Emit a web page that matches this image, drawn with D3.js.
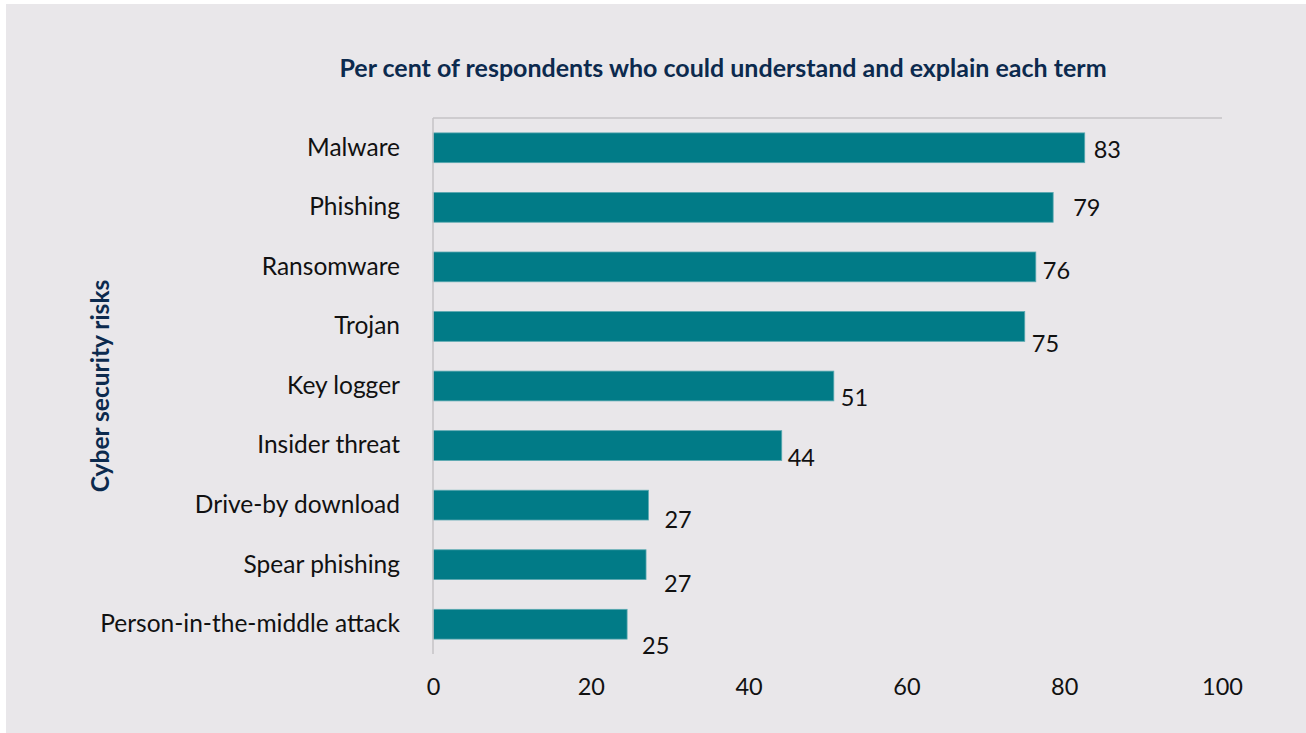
<!DOCTYPE html>
<html>
<head>
<meta charset="utf-8">
<script src="https://cdn.jsdelivr.net/npm/d3@7"></script>
<style>
    body { margin: 0; background: #ffffff; }
    svg { display: block; font-family: Lato, "Open Sans", sans-serif; }
</style>
</head>
<body>
<svg id="chart" width="1306" height="733"></svg>
<script>
"use strict"

// Data (bar lengths, labels are rounded)
var categories = ["Malware", "Phishing", "Ransomware", "Trojan", "Key logger",
    "Insider threat", "Drive-by download", "Spear phishing", "Person-in-the-middle attack"];
var values = [82.6, 78.6, 76.4, 75.0, 50.8, 44.2, 27.3, 27.0, 24.6];
var xTicks = [0, 20, 40, 60, 80, 100];

var titleText = "Per cent of respondents who could understand and explain each term";
var yTitleText = "Cyber security risks";

// label nudges (dx, dy) as placed in the original
var labelNudge = [[9, 2], [20, 0], [7, 4], [7, 17], [7, 12], [6, 12], [16, 15], [18, 19], [15, 22]];

var svg = d3.select("#chart");
var margin = {top: 118, left: 433, right: 84, bottom: 79};
var width = 1306 - margin.left - margin.right;
var height = 733 - margin.top - margin.bottom;

svg.append("rect")
    .attr("x", 6).attr("y", 4)
    .attr("width", 1300).attr("height", 729)
    .attr("fill", "#e9e7ea");

var x = d3.scaleLinear().domain([0, 100]).range([0, width]);
var y = d3.scaleBand().domain(categories).range([0, height])
    .paddingInner(0.5).paddingOuter(0.25);
var fmt = d3.format(".0f");

var g = svg.append("g")
    .attr("transform", "translate(" + margin.left + "," + margin.top + ")");

var data = categories.map(function(c, i){
    return {"name": c, "value": values[i], "nudge": labelNudge[i]};
});

// Bars
g.selectAll("rect.bar")
    .data(data).enter()
    .append("rect")
    .attr("class", "bar")
    .attr("x", 0)
    .attr("y", function(d){ return y(d.name); })
    .attr("width", function(d){ return x(d.value); })
    .attr("height", y.bandwidth())
    .attr("fill", "#017b87")
    .attr("stroke", "#5aa9b1")
    .attr("stroke-width", 0.8);

// Top line and left axis line
g.append("line")
    .attr("x1", 0).attr("x2", width)
    .attr("y1", 0).attr("y2", 0)
    .attr("stroke", "#c4c3c6").attr("stroke-width", 1.5);

g.append("line")
    .attr("x1", 0).attr("x2", 0)
    .attr("y1", 0).attr("y2", height)
    .attr("stroke", "#c4c3c6").attr("stroke-width", 1.5);

// Category labels
var yAxis = g.append("g")
    .call(d3.axisLeft(y).tickSize(0).tickPadding(33));
yAxis.select(".domain").remove();
yAxis.selectAll("text")
    .style("font-size", "24.5px")
    .style("font-family", "Lato, 'Open Sans', sans-serif")
    .attr("fill", "#111");

// X tick labels
var xAxis = g.append("g")
    .attr("transform", "translate(0," + height + ")")
    .call(d3.axisBottom(x).tickValues(xTicks).tickSize(0).tickPadding(24));
xAxis.select(".domain").remove();
xAxis.selectAll("text")
    .style("font-size", "23.5px")
    .style("font-family", "Lato, 'Open Sans', sans-serif")
    .attr("fill", "#111");

// Value labels
g.selectAll("text.value")
    .data(data).enter()
    .append("text")
    .attr("class", "value")
    .attr("x", function(d){ return x(d.value) + d.nudge[0]; })
    .attr("y", function(d){ return y(d.name) + y.bandwidth() / 2 + d.nudge[1]; })
    .attr("dy", "0.35em")
    .style("font-size", "23.5px")
    .attr("fill", "#111")
    .text(function(d){ return fmt(d.value); });

// Title
svg.append("text")
    .attr("x", 723).attr("y", 68)
    .attr("dy", "0.35em")
    .attr("text-anchor", "middle")
    .style("font-size", "25px")
    .style("font-weight", "bold")
    .attr("fill", "#0c2a4e")
    .text(titleText);

// Y axis title
svg.append("text")
    .attr("transform", "translate(100,386) rotate(-90)")
    .attr("dy", "0.35em")
    .attr("text-anchor", "middle")
    .style("font-size", "24.5px")
    .style("font-weight", "bold")
    .attr("fill", "#0c2a4e")
    .text(yTitleText);
</script>
</body>
</html>
